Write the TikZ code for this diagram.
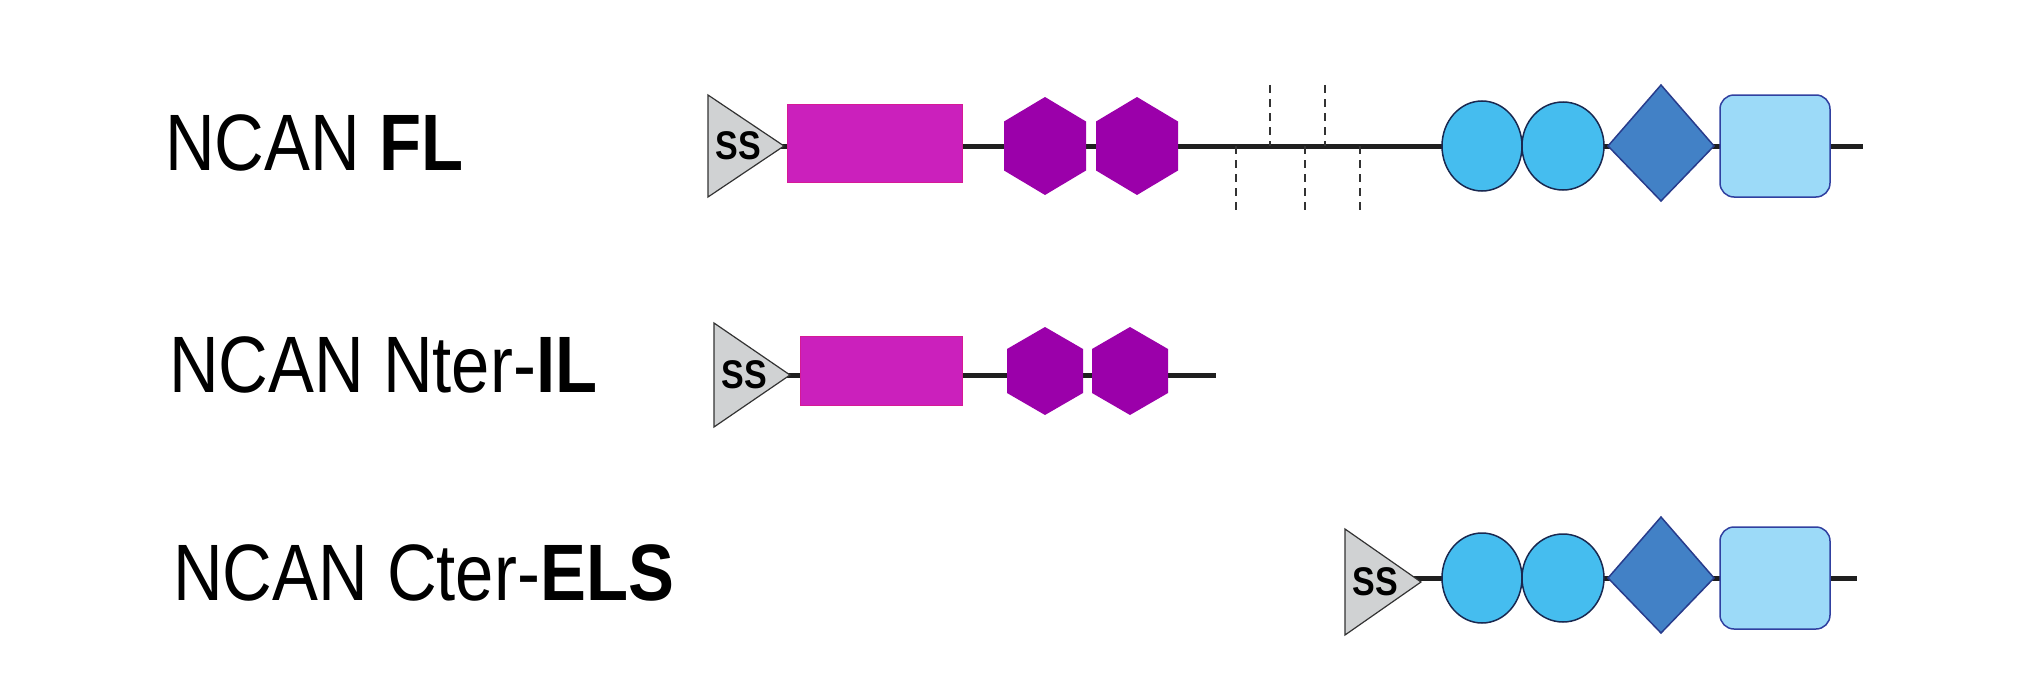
\documentclass[tikz,border=0pt]{standalone}
\usepackage{fontspec}
\setmainfont{Liberation Sans}
\definecolor{tri}{RGB}{208,210,211}
\definecolor{mag}{RGB}{203,32,188}
\definecolor{hexc}{RGB}{155,0,170}
\definecolor{ell}{RGB}{69,189,239}
\definecolor{ellb}{RGB}{25,40,80}
\definecolor{dia}{RGB}{66,129,198}
\definecolor{diab}{RGB}{40,60,140}
\definecolor{sq}{RGB}{156,218,248}
\definecolor{sqb}{RGB}{48,64,160}
\tikzset{
 backbone/.style={line width=5pt,draw=black!88},
 ssbox/.style={fill=tri,draw=black!80,line width=1.2pt},
 magbox/.style={fill=mag,draw=mag!80!red,line width=0.8pt},
 hexbox/.style={fill=hexc},
 ellbox/.style={fill=ell,draw=ellb,line width=1.5pt},
 diabox/.style={fill=dia,draw=diab,line width=1.5pt},
 sqbox/.style={fill=sq,draw=sqb,line width=1.5pt,rounded corners=14pt},
 cutline/.style={draw=black!80,line width=1.5pt,dash pattern=on 8pt off 6pt},
 lbl/.style={anchor=west,font=\fontsize{80}{90}\selectfont,inner sep=0pt,xscale=0.86},
 sslbl/.style={font=\bfseries\fontsize{40}{42}\selectfont,inner sep=0pt,xscale=0.85}
}
\newcommand{\sstri}[3]{% left x, center y, half height
 \fill[ssbox] (#1,#2-#3) -- (#1+76,#2) -- (#1,#2+#3) -- cycle;
 \node[sslbl] at (#1+30,#2) {SS};}
\newcommand{\hexa}[4]{% center x, center y, half width, half height
 \fill[hexbox] (#1,#2-#4) -- (#1+#3,#2-#4*0.5) -- (#1+#3,#2+#4*0.5) -- (#1,#2+#4) -- (#1-#3,#2+#4*0.5) -- (#1-#3,#2-#4*0.5) -- cycle;}
\newcommand{\ctergroup}[1]{%
 \draw[ellbox] (1482,#1+0) ellipse (40 and 45);
 \draw[ellbox] (1563,#1+0) ellipse (41 and 44);
 \draw[diabox] (1608,#1) -- (1661,#1-61) -- (1714,#1) -- (1661,#1+55) -- cycle;
 \draw[sqbox] (1720,#1-51) rectangle (1830,#1+51);}
\begin{document}
\begin{tikzpicture}[x=1pt,y=-1pt]
\useasboundingbox (0,0) rectangle (2043,685);
% Row 1
\node[lbl] (t1) at (165,143) {NCAN \textbf{FL}};
\draw[backbone] (760,146) -- (1863,146);
\sstri{708}{146}{51}
\fill[magbox] (787,104) rectangle (962,182);
\hexa{1045}{146}{41}{49}
\hexa{1137}{146}{41}{49}
\foreach \x in {1270,1325} \draw[cutline] (\x,85) -- (\x,146);
\foreach \x in {1236,1305,1360} \draw[cutline] (\x,146) -- (\x,212);
\ctergroup{146}
% Row 2
\node[lbl] (t2) at (169,365) {NCAN Nter-\textbf{IL}};
\draw[backbone] (770,375) -- (1216,375);
\sstri{714}{375}{52}
\fill[magbox] (800,336) rectangle (962,405);
\hexa{1045}{371}{38}{44}
\hexa{1130}{371}{38}{44}
% Row 3
\node[lbl] (t3) at (173,573) {NCAN Cter-\textbf{ELS}};
\draw[backbone] (1410,578) -- (1857,578);
\sstri{1345}{582}{53}
\ctergroup{578}
\end{tikzpicture}
\end{document}
